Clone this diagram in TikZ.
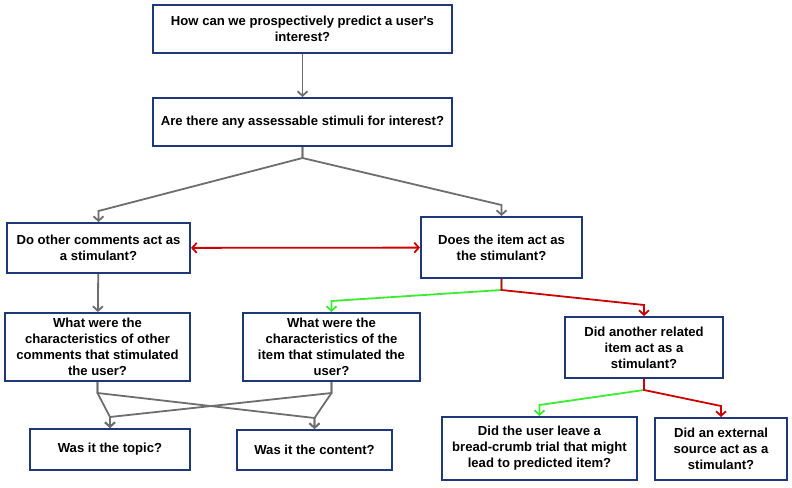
\documentclass[tikz,border=0pt]{standalone}
\usepackage{fontspec}
\setmainfont{Liberation Sans}
\usepackage{tikz}
\usetikzlibrary{arrows.meta}

\definecolor{qblue}{RGB}{31,56,122}
\definecolor{lgray}{RGB}{110,110,110}
\definecolor{nred}{RGB}{204,0,0}
\definecolor{ygreen}{RGB}{60,235,50}

\begin{document}
\begin{tikzpicture}[x=1pt,y=-1pt,
		qbox/.style={draw=qblue,line width=2pt,fill=white,align=center,
			inner sep=0pt,font=\fontsize{13.1}{16}\selectfont\bfseries},
		link/.style={line width=1.8pt,-{Straight Barb[length=4.5pt,width=10pt]}},
		elbow/.style={to path={-- ++(0,11) -- ([yshift=11pt]\tikztotarget) -- (\tikztotarget)}}]
		\useasboundingbox (0,0) rectangle (792,487);
		% questions
		\node[qbox,minimum width=299,minimum height=48] (interest) at (302.5,29) {How can we prospectively predict a user\textquotesingle s\\interest?};
		\node[qbox,minimum width=299,minimum height=48] (stimuli) at (302.5,122) {Are there any assessable stimuli for interest?};
		\node[qbox,minimum width=183,minimum height=50] (comments) at (98.5,248) {Do other comments act as\\a stimulant?};
		\node[qbox,minimum width=161,minimum height=61] (item) at (501.5,247.5) {Does the item act as\\the stimulant?};
		\node[qbox,minimum width=185,minimum height=68] (charcomm) at (97.5,347) {What were the\\characteristics of other\\comments that stimulated\\the user?};
		\node[qbox,minimum width=177,minimum height=68] (charitem) at (331.5,347) {What were the\\characteristics of the\\item that stimulated the\\user?};
		\node[qbox,minimum width=158,minimum height=61] (related) at (644,347.5) {Did another related\\item act as a\\stimulant?};
		\node[qbox,minimum width=160,minimum height=41] (topic) at (110,449.5) {Was it the topic?};
		\node[qbox,minimum width=155,minimum height=40] (content) at (314.5,450) {Was it the content?};
		\node[qbox,minimum width=195,minimum height=63] (crumb) at (539.5,448.5) {Did the user leave a\\bread-crumb trial that might\\lead to predicted item?};
		\node[qbox,minimum width=132,minimum height=62] (external) at (721,449) {Did an external\\source act as a\\stimulant?};
		% connectors
		\begin{scope}[draw=lgray]
			\draw[link] (interest) -- (stimuli);
			\draw[link] (stimuli.south) to[elbow] (comments.north);
			\draw[link] (stimuli.south) to[elbow] (item.north);
			\draw[link] (comments) -- (charcomm);
			\draw[link] (charcomm.south) to[elbow] (topic.north);
			\draw[link] (charcomm.south) to[elbow] (content.north);
			\draw[link] (charitem.south) to[elbow] (topic.north);
			\draw[link] (charitem.south) to[elbow] (content.north);
		\end{scope}
		\draw[link,draw=nred,{Straight Barb[length=4.5pt,width=10pt]}-{Straight Barb[length=4.5pt,width=10pt]}] (comments) -- (item);
		\draw[link,draw=ygreen] (item.south) to[elbow] (charitem.north);
		\draw[link,draw=nred] (item.south) to[elbow] (related.north);
		\draw[link,draw=ygreen] (related.south) to[elbow] (crumb.north);
		\draw[link,draw=nred] (related.south) to[elbow] (external.north);
	\end{tikzpicture}
\end{document}
